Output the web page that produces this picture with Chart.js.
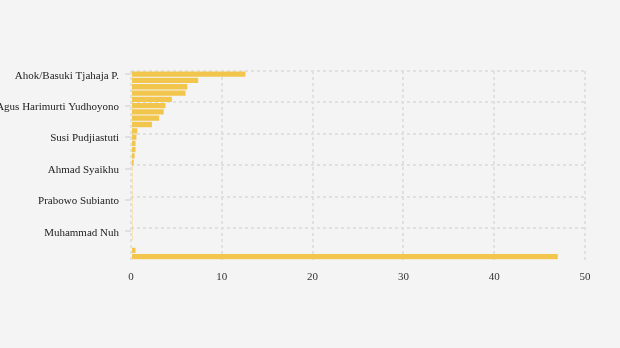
<!DOCTYPE html>
<html>
<head>
<meta charset="utf-8">
<script src="https://cdn.jsdelivr.net/npm/chart.js@4/dist/chart.umd.min.js"></script>
<style>
  html, body { margin: 0; padding: 0; background: #f4f4f4; }
  #wrap { width: 620px; height: 348px; }
</style>
</head>
<body>
<div id="wrap"><canvas id="chart"></canvas></div>
<script>
// names shown on the axis (every 5th row); the rest are unlabeled in the picture
const names = [
  "Ahok/Basuki Tjahaja P.", "", "", "", "",
  "Agus Harimurti Yudhoyono", "", "", "", "",
  "Susi Pudjiastuti", "", "", "", "",
  "Ahmad Syaikhu", "", "", "", "",
  "Prabowo Subianto", "", "", "", "",
  "Muhammad Nuh", "", "", "", ""
];
const values = [
  12.6, 7.4, 6.2, 6.0, 4.5,
  3.8, 3.6, 3.1, 2.3, 0.7,
  0.6, 0.5, 0.5, 0.4, 0.3,
  0.15, 0.15, 0.15, 0.15, 0.15,
  0.15, 0.15, 0.15, 0.15, 0.15,
  0.15, 0.15, 0, 0.5, 47.0
];
const xTicks = [0, 10, 20, 30, 40, 50];

const serif = "'Liberation Serif', 'DejaVu Serif', serif";
const gridGrey = "#e0e0e0";

// small tick marks left of the y axis, at the labelled rows
const yTickMarks = {
  id: "yTickMarks",
  afterDraw(chart) {
    const y = chart.scales.y;
    const ctx = chart.ctx;
    ctx.save();
    ctx.strokeStyle = gridGrey;
    ctx.lineWidth = 2;
    names.forEach((n, i) => {
      if (i % 5 !== 0) return;
      const py = Math.round(y.getPixelForValue(i));
      ctx.beginPath();
      ctx.moveTo(y.right - 6, py);
      ctx.lineTo(y.right, py);
      ctx.stroke();
    });
    ctx.restore();
  }
};

new Chart(document.getElementById("chart"), {
  type: "bar",
  data: {
    labels: names.map((n, i) => n || ("row" + i)),
    datasets: [{
      data: values,
      backgroundColor: "#f2c64c",
      borderWidth: 0,
      barPercentage: 0.84,
      categoryPercentage: 1
    }]
  },
  options: {
    indexAxis: "y",
    responsive: true,
    maintainAspectRatio: false,
    animation: false,
    layout: { padding: { top: 71, right: 35, bottom: 53, left: 0 } },
    plugins: { legend: { display: false }, tooltip: { enabled: false } },
    scales: {
      x: {
        min: 0,
        max: 50,
        afterBuildTicks: (axis) => { axis.ticks = xTicks.map(v => ({ value: v })); },
        grid: {
          color: gridGrey,
          lineWidth: 2,
          drawTicks: false
        },
        border: { display: false, dash: [3, 3] },
        ticks: {
          padding: 11,
          color: "#333",
          font: { family: serif, size: 11 }
        }
      },
      y: {
        afterFit: (axis) => { axis.width = 131; },
        grid: {
          offset: true,
          drawTicks: false,
          lineWidth: 2,
          color: (c) => (c.index % 5 === 0 ? gridGrey : "rgba(0,0,0,0)")
        },
        border: { display: false, dash: [3, 3] },
        ticks: {
          autoSkip: false,
          padding: 12,
          labelOffset: 1.5,
          color: "#222",
          font: { family: serif, size: 11 },
          callback: (v, i) => (i % 5 === 0 ? names[i] : "")
        }
      }
    }
  },
  plugins: [yTickMarks]
});
</script>
</body>
</html>
